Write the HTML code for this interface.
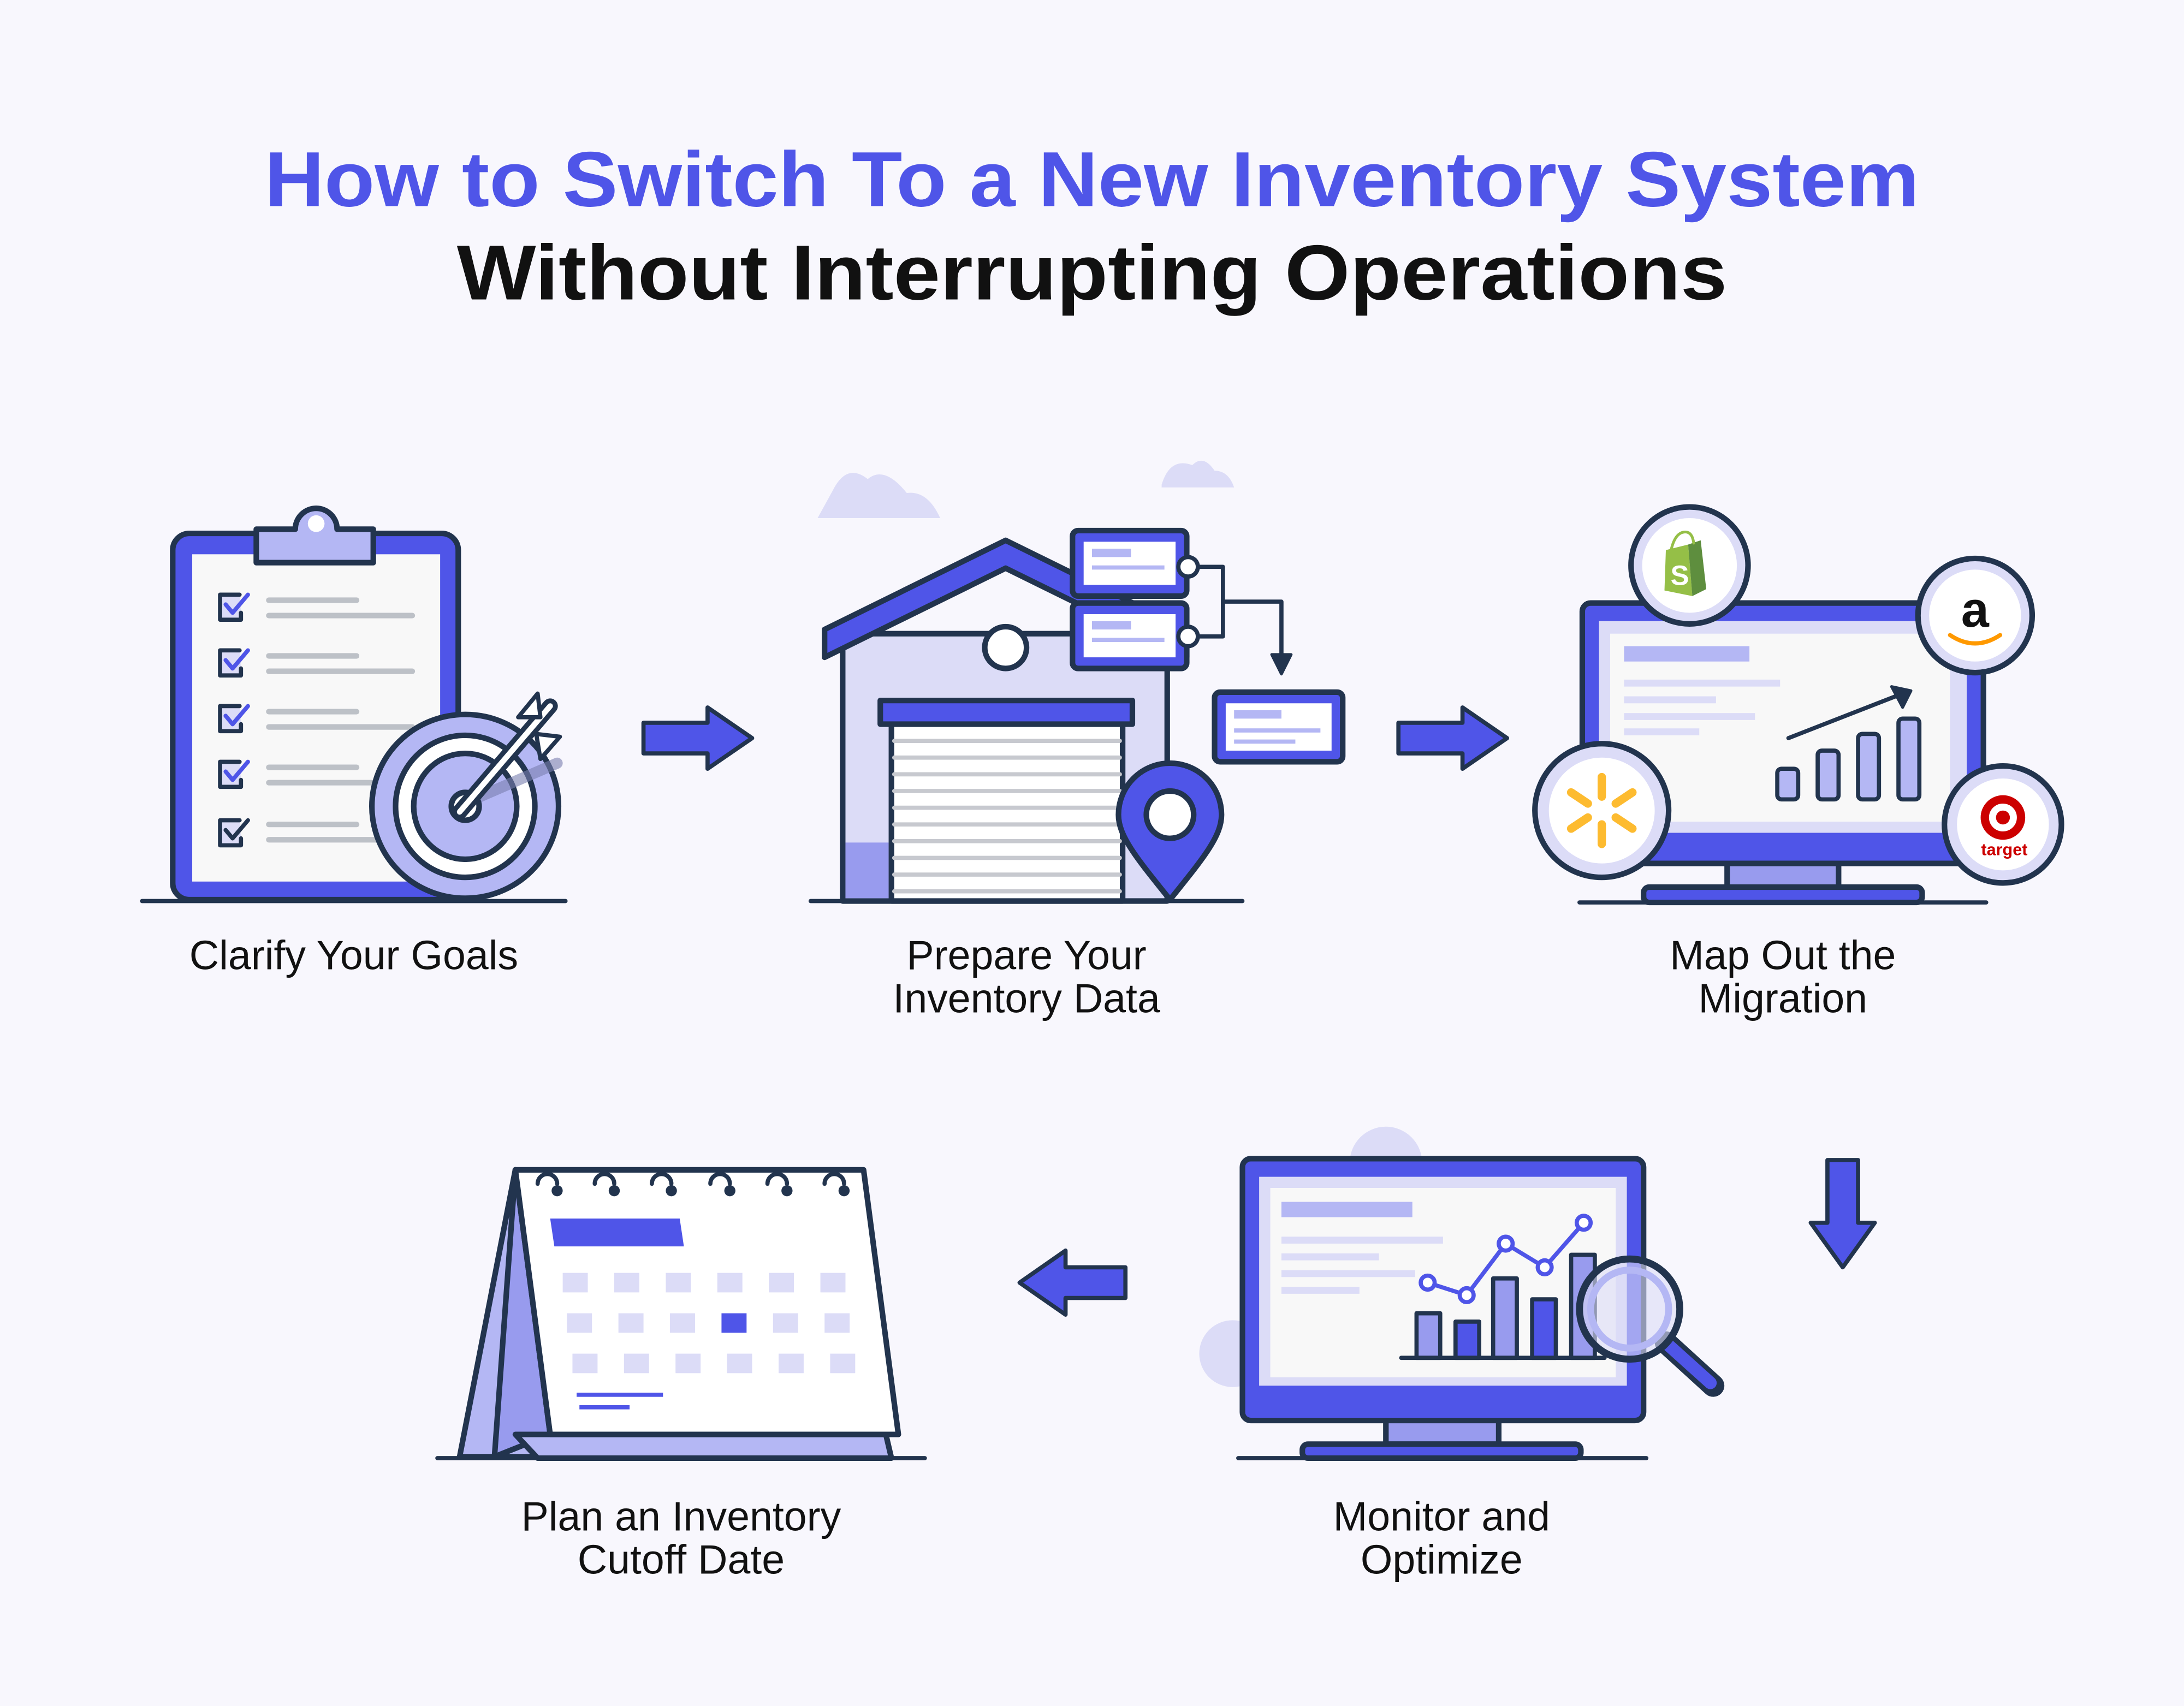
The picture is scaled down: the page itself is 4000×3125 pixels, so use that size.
<!DOCTYPE html>
<html><head><meta charset="utf-8"><style>
html,body{margin:0;padding:0;background:#F8F7FD;}
svg{display:block;}
text{font-family:"Liberation Sans",sans-serif;}
</style></head><body>
<svg width="4000" height="3125" viewBox="0 0 1568 1225" xmlns="http://www.w3.org/2000/svg">
<rect width="1568" height="1225" fill="#F8F7FD"/>
<text x="784" y="148" text-anchor="middle" font-size="56" font-weight="bold" fill="#4F55E8" textLength="1188" lengthAdjust="spacingAndGlyphs">How to Switch To a New Inventory System</text>
<text x="784" y="215" text-anchor="middle" font-size="56" font-weight="bold" fill="#111" textLength="912" lengthAdjust="spacingAndGlyphs">Without Interrupting Operations</text>

<g stroke="#22344E" stroke-width="4" stroke-linejoin="round" stroke-linecap="round">
<!-- clipboard -->
<rect x="124" y="383" width="205" height="263" rx="12" fill="#4F55E8"/>
<rect x="138" y="398" width="178" height="235" fill="#F8F8F8" stroke="none"/>
<path d="M184 380 h28 a15 15 0 0 1 30 0 h26 v24 h-84z" fill="#B4B7F4"/>
<circle cx="227" cy="376" r="6" fill="#fff" stroke="none"/>
<g fill="#DCDCF7" stroke-width="3">
<path d="M172 427 h-14 v18 h15 v-5"/><path d="M172 467 h-14 v18 h15 v-5"/><path d="M172 507 h-14 v18 h15 v-5"/><path d="M172 547 h-14 v18 h15 v-5"/><path d="M172 589 h-14 v18 h15 v-5"/>
</g>
<g fill="none" stroke="#4F55E8" stroke-width="3">
<path d="M162 434 l5 6 l11 -13"/><path d="M162 474 l5 6 l11 -13"/><path d="M162 514 l5 6 l11 -13"/><path d="M162 554 l5 6 l11 -13"/>
</g>
<path d="M162 596 l5 6 l11 -13" fill="none" stroke-width="3"/>
<g stroke="#BDC1C7" stroke-width="4">
<line x1="193" y1="431" x2="256" y2="431"/><line x1="193" y1="442" x2="296" y2="442"/>
<line x1="193" y1="471" x2="256" y2="471"/><line x1="193" y1="482" x2="296" y2="482"/>
<line x1="193" y1="511" x2="256" y2="511"/><line x1="193" y1="522" x2="296" y2="522"/>
<line x1="193" y1="551" x2="256" y2="551"/><line x1="193" y1="562" x2="270" y2="562"/>
<line x1="193" y1="592" x2="256" y2="592"/><line x1="193" y1="603" x2="270" y2="603"/>
</g>
<ellipse cx="334" cy="579" rx="67" ry="66" fill="#B4B7F4"/>
<ellipse cx="334" cy="579" rx="50" ry="51" fill="#fff"/>
<ellipse cx="334" cy="579" rx="37" ry="38" fill="#B4B7F4"/>
<path d="M340 574 L400 548" stroke="#7A7FB0" stroke-width="8" opacity="0.6"/>
<circle cx="334" cy="579" r="10" fill="#fff"/>
<path d="M330 583 L395 507" stroke-width="11"/><path d="M330 583 L395 507" stroke="#fff" stroke-width="4"/>
<path d="M372 515 l14 -17 l2 17z M385 527 l17 2 l-14 16z" fill="#fff" stroke-width="3"/>
<line x1="102" y1="647" x2="406" y2="647" stroke-width="3"/>

<!-- arrow 1 -->
<path d="M462 519 h46 v-11 l32 22 l-32 22 v-11 h-46z" fill="#4F55E8" stroke-width="3"/>

<!-- warehouse -->
<path d="M598 352 q10 -20 25 -8 q12 -10 28 10 q15 -2 24 18 h-88z" fill="#DCDCF7" stroke="none"/>
<path d="M834 348 q6 -20 22 -14 q8 -8 16 4 q10 0 14 12 h-52z" fill="#DCDCF7" stroke="none"/>
<rect x="605" y="455" width="233" height="192" fill="#DCDCF7"/>
<rect x="607" y="605" width="31" height="40" fill="#989BEE" stroke="none"/>
<path d="M592 452 L722 388 L852 452 L852 472 L722 408 L592 472z" fill="#4F55E8"/>
<circle cx="722" cy="465" r="15" fill="#fff"/>
<rect x="640" y="518" width="166" height="129" fill="#fff"/>
<g stroke="#C7C9CF" stroke-width="3">
<line x1="642" y1="532" x2="804" y2="532"/><line x1="642" y1="544" x2="804" y2="544"/><line x1="642" y1="556" x2="804" y2="556"/><line x1="642" y1="568" x2="804" y2="568"/><line x1="642" y1="580" x2="804" y2="580"/><line x1="642" y1="592" x2="804" y2="592"/><line x1="642" y1="604" x2="804" y2="604"/><line x1="642" y1="616" x2="804" y2="616"/><line x1="642" y1="628" x2="804" y2="628"/><line x1="642" y1="640" x2="804" y2="640"/>
</g>
<rect x="632" y="503" width="181" height="17" fill="#4F55E8"/>
<path d="M840 646 C815 615 803 600 803 585 a37 37 0 0 1 74 0 C877 600 865 615 840 646z" fill="#4F55E8"/>
<circle cx="840" cy="585" r="17" fill="#fff"/>
<rect x="770" y="381" width="82" height="47" rx="4" fill="#4F55E8"/>
<rect x="778" y="389" width="66" height="31" fill="#fff" stroke="none"/>
<rect x="770" y="433" width="82" height="47" rx="4" fill="#4F55E8"/>
<rect x="778" y="441" width="66" height="31" fill="#fff" stroke="none"/>
<g stroke="none"><rect x="784" y="394" width="28" height="6" fill="#B4B7F4"/><rect x="784" y="406" width="52" height="3" fill="#B4B7F4"/><rect x="784" y="446" width="28" height="6" fill="#B4B7F4"/><rect x="784" y="458" width="52" height="3" fill="#B4B7F4"/></g>
<path d="M860 407 h18 v50 h-18 M878 432 h42 v45" fill="none" stroke-width="3"/>
<path d="M913 470 l7 14 l7 -14z" fill="#22344E" stroke-width="2"/>
<circle cx="853" cy="407" r="7" fill="#fff" stroke-width="3"/>
<circle cx="853" cy="457" r="7" fill="#fff" stroke-width="3"/>
<rect x="872" y="497" width="92" height="50" rx="4" fill="#4F55E8"/>
<rect x="880" y="505" width="76" height="34" fill="#fff" stroke="none"/>
<rect x="886" y="510" width="34" height="6" fill="#B4B7F4" stroke="none"/><rect x="886" y="523" width="62" height="3" fill="#B4B7F4" stroke="none"/><rect x="886" y="531" width="44" height="3" fill="#B4B7F4" stroke="none"/>
<line x1="582" y1="647" x2="892" y2="647" stroke-width="3"/>

<!-- arrow 2 -->
<path d="M1004 519 h46 v-11 l32 22 l-32 22 v-11 h-46z" fill="#4F55E8" stroke-width="3"/>

<!-- monitor map -->
<rect x="1136" y="433" width="288" height="187" rx="6" fill="#4F55E8"/>
<rect x="1148" y="446" width="264" height="152" fill="#DCDCF7" stroke="none"/>
<rect x="1156" y="455" width="244" height="135" fill="#F8F8F8" stroke="none"/>
<g stroke="none"><rect x="1166" y="464" width="90" height="11" fill="#B4B7F4"/><rect x="1166" y="488" width="112" height="5" fill="#DCDCF7"/><rect x="1166" y="500" width="66" height="5" fill="#DCDCF7"/><rect x="1166" y="512" width="94" height="5" fill="#DCDCF7"/><rect x="1166" y="523" width="54" height="5" fill="#DCDCF7"/></g>
<rect x="1276" y="552" width="15" height="22" rx="3" fill="#B4B7F4" stroke-width="3"/>
<rect x="1305" y="539" width="15" height="35" rx="3" fill="#B4B7F4" stroke-width="3"/>
<rect x="1334" y="527" width="15" height="47" rx="3" fill="#B4B7F4" stroke-width="3"/>
<rect x="1363" y="516" width="15" height="58" rx="3" fill="#B4B7F4" stroke-width="3"/>
<path d="M1284 530 L1366 498" fill="none" stroke-width="3"/><path d="M1358 493 l14 3 l-6 12z" fill="#22344E" stroke-width="2"/>
<rect x="1240" y="620" width="80" height="18" fill="#989BEE"/>
<rect x="1180" y="637" width="200" height="11" rx="4" fill="#4F55E8"/>
<line x1="1134" y1="648" x2="1426" y2="648" stroke-width="3"/>
<circle cx="1213" cy="406" r="42" fill="#DCDCF7"/><circle cx="1213" cy="406" r="34" fill="#fff" stroke="none"/>
<path d="M1196 395 l16 -4 l3 37 l-20 -4z" fill="#95BF47" stroke="none"/><path d="M1212 391 l9 -3 l4 35 l-10 5z" fill="#5E8E3E" stroke="none"/>
<path d="M1200 394 q3 -12 10 -12 q5 0 6 8" fill="none" stroke="#95BF47" stroke-width="2"/>
<text x="1206" y="420" text-anchor="middle" font-size="20" font-weight="bold" fill="#fff" stroke="none">S</text>
<circle cx="1418" cy="442" r="41" fill="#DCDCF7"/><circle cx="1418" cy="442" r="33" fill="#fff" stroke="none"/>
<text x="1418" y="450" text-anchor="middle" font-size="36" font-weight="bold" fill="#111" stroke="none">a</text>
<path d="M1400 456 q18 12 36 0" fill="none" stroke="#FF9900" stroke-width="3"/>
<circle cx="1150" cy="582" r="48" fill="#DCDCF7"/><circle cx="1150" cy="582" r="38" fill="#fff" stroke="none"/>
<g stroke="#FDBB30" stroke-width="6"><line x1="1150" y1="558" x2="1150" y2="572"/><line x1="1150" y1="592" x2="1150" y2="606"/><line x1="1128" y1="569" x2="1140" y2="577"/><line x1="1172" y1="569" x2="1160" y2="577"/><line x1="1128" y1="595" x2="1140" y2="587"/><line x1="1172" y1="595" x2="1160" y2="587"/></g>
<circle cx="1438" cy="592" r="42" fill="#DCDCF7"/><circle cx="1438" cy="592" r="33" fill="#fff" stroke="none"/>
<circle cx="1438" cy="587" r="13" fill="none" stroke="#CC0000" stroke-width="6"/><circle cx="1438" cy="587" r="5" fill="#CC0000" stroke="none"/>
<text x="1439" y="614" text-anchor="middle" font-size="12" font-weight="bold" fill="#CC0000" stroke="none">target</text>

<!-- arrow down -->
<path d="M1312 833 h22 v45 h12 l-23 32 l-23 -32 h12z" fill="#4F55E8" stroke-width="3"/>

<!-- monitor optimize -->
<circle cx="995" cy="835" r="26" fill="#DCDCF7" stroke="none"/>
<circle cx="885" cy="972" r="24" fill="#DCDCF7" stroke="none"/>
<rect x="892" y="832" width="288" height="188" rx="6" fill="#4F55E8"/>
<rect x="904" y="845" width="264" height="150" fill="#DCDCF7" stroke="none"/>
<rect x="912" y="853" width="248" height="136" fill="#F8F8F8" stroke="none"/>
<g stroke="none"><rect x="920" y="863" width="94" height="11" fill="#B4B7F4"/><rect x="920" y="888" width="116" height="5" fill="#DCDCF7"/><rect x="920" y="900" width="70" height="5" fill="#DCDCF7"/><rect x="920" y="912" width="96" height="5" fill="#DCDCF7"/><rect x="920" y="924" width="56" height="5" fill="#DCDCF7"/></g>
<rect x="1017" y="943" width="17" height="32" fill="#989BEE" stroke-width="3"/>
<rect x="1045" y="949" width="17" height="26" fill="#4F55E8" stroke-width="3"/>
<rect x="1072" y="918" width="17" height="57" fill="#989BEE" stroke-width="3"/>
<rect x="1100" y="933" width="17" height="42" fill="#4F55E8" stroke-width="3"/>
<rect x="1128" y="901" width="17" height="74" fill="#989BEE" stroke-width="3"/>
<line x1="1006" y1="975" x2="1152" y2="975" stroke-width="3"/>
<polyline points="1025,921 1053,930 1081,893 1109,910 1137,878" fill="none" stroke="#4F55E8" stroke-width="3"/>
<g fill="#fff" stroke="#4F55E8" stroke-width="3"><circle cx="1025" cy="921" r="5"/><circle cx="1053" cy="930" r="5"/><circle cx="1081" cy="893" r="5"/><circle cx="1109" cy="910" r="5"/><circle cx="1137" cy="878" r="5"/></g>
<path d="M1196 964 L1230 995" stroke-width="16"/><path d="M1198 966 L1228 993" stroke="#4F55E8" stroke-width="9"/>
<circle cx="1170" cy="940" r="36" fill="#DCDCF7" fill-opacity="0.6" stroke-width="5"/>
<circle cx="1170" cy="940" r="28" fill="none" stroke="#B4B7F4" stroke-width="5"/>
<rect x="995" y="1020" width="81" height="17" fill="#989BEE"/>
<rect x="935" y="1037" width="200" height="10" rx="4" fill="#4F55E8"/>
<line x1="889" y1="1047" x2="1182" y2="1047" stroke-width="3"/>

<!-- arrow left -->
<path d="M808 910 v22 h-43 v12 l-33 -23 l33 -23 v12z" fill="#4F55E8" stroke-width="3"/>

<!-- calendar -->
<path d="M330 1046 L370 840 L386 1046z" fill="#B4B7F4"/>
<path d="M355 1046 L370 840 L395 1030z" fill="#989BEE"/>
<path d="M370 1030 H636 L640 1047 H386z" fill="#B4B7F4"/>
<path d="M370 840 H620 L645 1030 H395z" fill="#fff"/>
<path d="M395 875 H488 L491 895 H398z" fill="#4F55E8" stroke="none"/>
<g fill="#DCDCF7" stroke="none">
<rect x="404" y="914" width="18" height="14"/><rect x="441" y="914" width="18" height="14"/><rect x="478" y="914" width="18" height="14"/><rect x="515" y="914" width="18" height="14"/><rect x="552" y="914" width="18" height="14"/><rect x="589" y="914" width="18" height="14"/>
<rect x="407" y="943" width="18" height="14"/><rect x="444" y="943" width="18" height="14"/><rect x="481" y="943" width="18" height="14"/><rect x="555" y="943" width="18" height="14"/><rect x="592" y="943" width="18" height="14"/>
<rect x="411" y="972" width="18" height="14"/><rect x="448" y="972" width="18" height="14"/><rect x="485" y="972" width="18" height="14"/><rect x="522" y="972" width="18" height="14"/><rect x="559" y="972" width="18" height="14"/><rect x="596" y="972" width="18" height="14"/>
</g>
<rect x="518" y="943" width="18" height="14" fill="#4F55E8" stroke="none"/>
<rect x="414" y="1000" width="62" height="3" fill="#4F55E8" stroke="none"/><rect x="416" y="1009" width="36" height="3" fill="#4F55E8" stroke="none"/>
<g fill="none" stroke-width="3">
<path d="M386 850 a7 7 0 1 1 14 0"/><path d="M427 850 a7 7 0 1 1 14 0"/><path d="M468 850 a7 7 0 1 1 14 0"/><path d="M510 850 a7 7 0 1 1 14 0"/><path d="M551 850 a7 7 0 1 1 14 0"/><path d="M592 850 a7 7 0 1 1 14 0"/>
</g>
<g fill="#22344E" stroke="none"><circle cx="400" cy="855" r="4"/><circle cx="441" cy="855" r="4"/><circle cx="482" cy="855" r="4"/><circle cx="524" cy="855" r="4"/><circle cx="565" cy="855" r="4"/><circle cx="606" cy="855" r="4"/></g>
<line x1="314" y1="1047" x2="664" y2="1047" stroke-width="3"/>
</g>

<g font-size="29.5" fill="#111" text-anchor="middle">
<text x="254" y="696">Clarify Your Goals</text>
<text x="737" y="696">Prepare Your</text><text x="737" y="727">Inventory Data</text>
<text x="1280" y="696">Map Out the</text><text x="1280" y="727">Migration</text>
<text x="489" y="1099">Plan an Inventory</text><text x="489" y="1130">Cutoff Date</text>
<text x="1035" y="1099">Monitor and</text><text x="1035" y="1130">Optimize</text>
</g>
</svg>
</body></html>
